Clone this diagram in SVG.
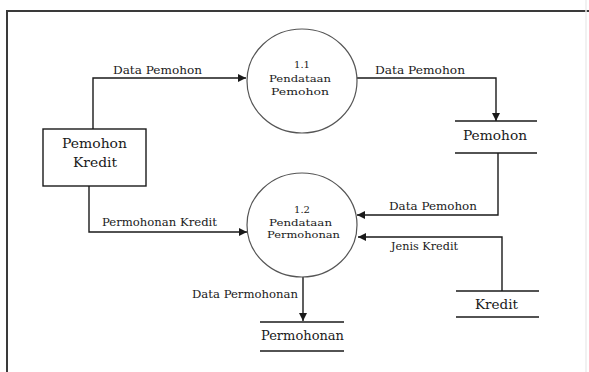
<svg xmlns="http://www.w3.org/2000/svg" width="589" height="372" viewBox="0 0 589 372">
<style>
text{font-family:'DejaVu Serif','Liberation Serif',serif;fill:#1a1a1a}
.lbl{font-size:11px}
.sm{font-size:10px}
.big{font-size:13px}
.ctr{text-anchor:middle}
.proc{fill:#fff;stroke:#555;stroke-width:1.2}
.flow{fill:none;stroke:#1a1a1a;stroke-width:1.4}
.store{stroke:#1a1a1a;stroke-width:1.4}
</style>
<defs>
<marker id="ah" viewBox="0 0 10 10" refX="10" refY="5" markerWidth="8" markerHeight="8" markerUnits="userSpaceOnUse" orient="auto">
<path d="M0,0 L10,5 L0,10 z" fill="#1a1a1a"/>
</marker>
</defs>
<rect width="589" height="372" fill="#fff"/>
<path d="M7,372 V11 H589" fill="none" stroke="#3a3a3a" stroke-width="2"/>
<line x1="586" y1="0" x2="586" y2="372" stroke="#ececec" stroke-width="1.5"/>

<g id="connectors">
<path class="flow" d="M93,129 V78 H246" marker-end="url(#ah)"/>
<path class="flow" d="M357,78 H496 V121" marker-end="url(#ah)"/>
<path class="flow" d="M498,153 V215 H357" marker-end="url(#ah)"/>
<path class="flow" d="M502,291 V237 H358" marker-end="url(#ah)"/>
<path class="flow" d="M89,186 V232 H247" marker-end="url(#ah)"/>
<path class="flow" d="M303,277 V321" marker-end="url(#ah)"/>
<text class="lbl" x="113" y="74" textLength="89" lengthAdjust="spacingAndGlyphs">Data Pemohon</text>
<text class="lbl" x="375" y="74" textLength="90" lengthAdjust="spacingAndGlyphs">Data Pemohon</text>
<text class="lbl" x="389" y="210" textLength="88" lengthAdjust="spacingAndGlyphs">Data Pemohon</text>
<text class="lbl" x="391" y="250" textLength="67" lengthAdjust="spacingAndGlyphs">Jenis Kredit</text>
<text class="lbl" x="102" y="226" textLength="115" lengthAdjust="spacingAndGlyphs">Permohonan Kredit</text>
<text class="lbl" x="192" y="298" textLength="106" lengthAdjust="spacingAndGlyphs">Data Permohonan</text>
</g>

<g id="pemohon-kredit">
<rect x="43" y="129" width="103" height="57" fill="#fff" stroke="#1a1a1a" stroke-width="1.4"/>
<text class="big" x="62" y="148" textLength="65" lengthAdjust="spacingAndGlyphs">Pemohon</text>
<text class="big" x="73" y="167" textLength="44" lengthAdjust="spacingAndGlyphs">Kredit</text>
</g>

<g id="proc-1-1">
<ellipse class="proc" cx="302" cy="81" rx="55" ry="52"/>
<text class="sm ctr" x="302" y="68">1.1</text>
<text class="sm" x="269" y="82" textLength="62" lengthAdjust="spacingAndGlyphs">Pendataan</text>
<text class="sm" x="271" y="95" textLength="58" lengthAdjust="spacingAndGlyphs">Pemohon</text>
</g>

<g id="proc-1-2">
<ellipse class="proc" cx="302" cy="225" rx="55" ry="52"/>
<text class="sm ctr" x="302" y="213">1.2</text>
<text class="sm" x="269" y="226" textLength="63" lengthAdjust="spacingAndGlyphs">Pendataan</text>
<text class="sm" x="267" y="238" textLength="73" lengthAdjust="spacingAndGlyphs">Permohonan</text>
</g>

<g id="store-pemohon">
<line class="store" x1="455" y1="121" x2="537" y2="121"/>
<line class="store" x1="455" y1="153" x2="537" y2="153"/>
<text class="big" x="463" y="140" textLength="64" lengthAdjust="spacingAndGlyphs">Pemohon</text>
</g>

<g id="store-kredit">
<line class="store" x1="456" y1="291" x2="539" y2="291"/>
<line class="store" x1="456" y1="317" x2="539" y2="317"/>
<text class="big" x="475" y="309" textLength="43" lengthAdjust="spacingAndGlyphs">Kredit</text>
</g>

<g id="store-permohonan">
<line class="store" x1="260" y1="322" x2="344" y2="322"/>
<line class="store" x1="260" y1="351" x2="344" y2="351"/>
<text class="big" x="261" y="340" textLength="83" lengthAdjust="spacingAndGlyphs">Permohonan</text>
</g>
</svg>
